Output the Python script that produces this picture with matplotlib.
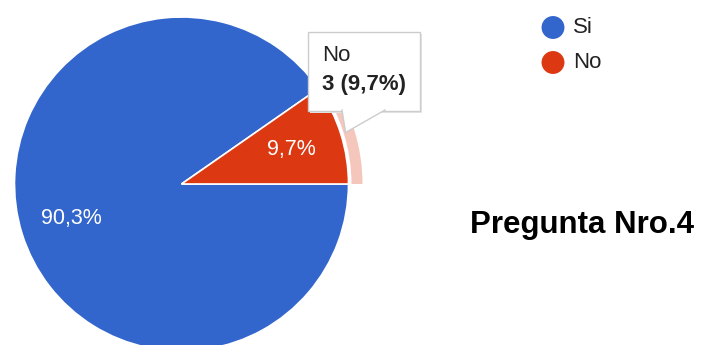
import matplotlib.pyplot as plt
from matplotlib.patches import Wedge, Rectangle, Polygon
import numpy as np

plt.rcParams['font.family'] = ['Liberation Sans', 'DejaVu Sans']

# data
labels = ['Si', 'No']
counts = [28, 3]
colors = ['#3366CC', '#DC3912']
halo_color = '#F5C6BB'
title = 'Pregunta Nro.4'

W, H = 701, 345
fig = plt.figure(figsize=(W / 100, H / 100), dpi=100)
ax = fig.add_axes([0, 0, 1, 1])

# pie centre / radius in pixels (y measured from the bottom)
cx, cy, r = 181.5, H - 184, 167

wedges, texts, autotexts = ax.pie(
    counts, colors=colors, startangle=0, counterclock=False,
    center=(cx, cy), radius=r,
    autopct=lambda p: f'{p:.1f}%'.replace('.', ','), pctdistance=0.69,
    wedgeprops=dict(edgecolor='white', linewidth=1.2),
    textprops=dict(color='white', fontsize=15.5))

# highlight ring around the hovered slice
hw = wedges[1]
ax.add_patch(Wedge((cx, cy), r + 14, hw.theta1, hw.theta2, width=11,
                   facecolor=halo_color, edgecolor='none'))

# tooltip
total = sum(counts)
mid = np.deg2rad((hw.theta1 + hw.theta2) / 2)
tip = (cx + (r + 5) * np.cos(mid), cy + (r + 5) * np.sin(mid))
bx0, bx1, by0, by1 = 308, 420, H - 111, H - 32
ax.add_patch(Rectangle((bx0 + 2, by0 - 2), bx1 - bx0, by1 - by0,
                       facecolor='#e6e6e6', edgecolor='none', zorder=5))
ax.add_patch(Rectangle((bx0, by0), bx1 - bx0, by1 - by0,
                       facecolor='white', edgecolor='#cccccc', lw=1, zorder=6))
tail = [(342, by0 + 1), tip, (385, by0 + 1)]
ax.add_patch(Polygon(tail, closed=True, facecolor='white', edgecolor='none', zorder=7))
ax.plot([tail[0][0], tip[0], tail[2][0]], [tail[0][1], tip[1], tail[2][1]],
        color='#cccccc', lw=1, zorder=7)
ax.text(bx0 + 14, H - 61, labels[1], fontsize=16, color='#222222',
        va='baseline', ha='left', zorder=8)
ax.text(bx0 + 14, H - 90,
        f'{counts[1]} ({100 * counts[1] / total:.1f}%)'.replace('.', ','),
        fontsize=16, fontweight='bold', color='#222222',
        va='baseline', ha='left', zorder=8)

# legend
for i, (lab, col) in enumerate(zip(labels, colors)):
    y = H - 27.5 - i * 35
    ax.scatter([553], [y], s=16.5 ** 2, color=col, edgecolors='none', zorder=5)
    ax.text(573, y, lab, fontsize=16, color='#222222', va='center', ha='left')

# title
ax.text(470, H - 233, title, fontsize=22.5, fontweight='bold', color='black',
        va='baseline', ha='left')

ax.set_xlim(0, W)
ax.set_ylim(0, H)
ax.set_aspect('equal')
ax.axis('off')

fig.savefig('out.png', dpi=100, facecolor='white')
